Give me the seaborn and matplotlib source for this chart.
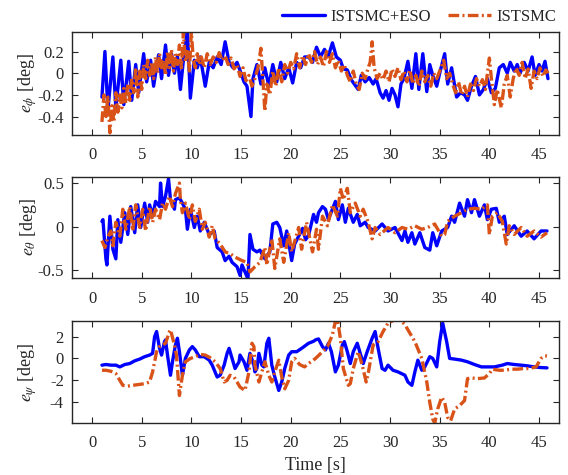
import matplotlib
matplotlib.use("Agg")
import matplotlib.pyplot as plt
import seaborn as sns
import pandas as pd

# ---------------- roll error e_phi ----------------
t_phi_eso = [1.0, 1.3, 1.6, 2.1, 2.4, 2.9, 3.2, 3.7, 4.0, 4.4, 4.7, 5.2, 5.5, 5.9, 6.2, 6.7, 7.0, 7.4, 7.7, 8.0,
             8.3, 8.6, 8.9, 9.2, 9.6, 9.9, 10.3, 10.6, 10.9, 11.4, 11.8, 12.2, 12.6, 13.0, 13.4, 13.8, 14.2, 14.6,
             15.0, 15.3, 15.6, 16.0, 16.2, 16.6, 17.0, 17.4, 17.8, 18.2, 18.6, 19.0, 19.4, 19.8, 20.2, 20.6, 21.0,
             21.4, 21.8, 22.2, 22.6, 23.0, 23.4, 23.8, 24.2, 24.6, 25.0, 25.3, 25.7, 26.1, 26.4, 26.8, 27.1, 27.5,
             27.9, 28.3, 28.6, 29.0, 29.3, 29.6, 29.9, 30.2, 30.5, 30.8, 31.1, 31.4, 31.8, 32.2, 32.6, 32.9, 33.3,
             33.7, 34.0, 34.3, 34.7, 35.0, 35.5, 35.8, 36.2, 36.7, 37.1, 37.5, 37.8, 38.2, 38.6, 39.0, 39.4, 39.8,
             40.2, 40.6, 41.0, 41.4, 41.8, 42.1, 42.5, 42.8, 43.1, 43.5, 43.9, 44.3, 44.6, 45.0, 45.3, 45.6, 45.9]
phi_eso = [-0.22, 0.20, -0.34, 0.15, -0.32, 0.12, -0.29, 0.11, -0.25, 0.08, -0.18, 0.18, -0.08, 0.12, -0.12, 0.17,
           -0.05, 0.26, -0.02, 0.18, 0.00, 0.16, -0.15, 0.12, 0.40, -0.23, 0.12, 0.05, 0.15, -0.12, 0.10, 0.05,
           0.15, 0.08, 0.29, 0.10, 0.05, 0.10, 0.00, -0.08, -0.12, -0.40, -0.05, 0.08, -0.10, 0.05, -0.12, 0.08,
           -0.08, 0.10, -0.05, 0.05, -0.09, 0.10, 0.05, 0.15, 0.15, 0.10, 0.24, 0.15, 0.22, 0.16, 0.28, 0.15,
           0.12, 0.04, 0.03, -0.06, -0.10, -0.15, -0.02, -0.08, -0.04, -0.10, -0.05, -0.18, -0.23, -0.16, -0.25,
           -0.14, -0.20, -0.31, -0.10, -0.05, 0.11, -0.14, 0.18, -0.15, 0.18, -0.17, 0.08, -0.02, -0.12, 0.00,
           0.18, -0.10, 0.05, -0.22, -0.18, -0.20, -0.25, -0.12, -0.03, -0.20, -0.15, -0.05, -0.18, -0.14, 0.05,
           0.08, 0.00, 0.10, 0.02, 0.08, 0.00, 0.10, 0.02, 0.15, -0.02, 0.08, 0.02, 0.11, -0.05]

t_phi_smc = [1.0, 1.2, 1.4, 1.6, 1.8, 2.0, 2.2, 2.4, 2.6, 2.8, 3.0, 3.2, 3.4, 3.6, 3.8, 4.0, 4.2, 4.4, 4.6, 4.8,
             5.0, 5.2, 5.4, 5.6, 5.8, 6.0, 6.2, 6.4, 6.6, 6.8, 7.0, 7.2, 7.4, 7.6, 7.8, 8.0, 8.2, 8.4, 8.6, 8.8,
             9.0, 9.2, 9.4, 9.6, 9.8, 10.0, 10.2, 10.4, 10.6, 10.8, 11.0, 11.3, 11.6, 11.9, 12.2, 12.5, 12.8, 13.1,
             13.4, 13.7, 14.0, 14.3, 14.6, 14.9, 15.2, 15.5, 15.8, 16.1, 16.4, 16.7, 17.0, 17.2, 17.4, 17.6, 17.9,
             18.2, 18.5, 18.8, 19.1, 19.4, 19.7, 20.0, 20.3, 20.6, 20.9, 21.2, 21.5, 21.8, 22.1, 22.4, 22.7, 23.0,
             23.3, 23.6, 23.9, 24.2, 24.5, 24.8, 25.1, 25.4, 25.7, 26.0, 26.3, 26.6, 26.9, 27.2, 27.5, 27.8, 28.0,
             28.2, 28.4, 28.7, 29.0, 29.3, 29.6, 29.9, 30.2, 30.5, 30.8, 31.1, 31.4, 31.7, 32.0, 32.3, 32.6, 32.9,
             33.2, 33.5, 33.8, 34.1, 34.4, 34.7, 35.0, 35.4, 35.7, 36.0, 36.3, 36.6, 36.9, 37.2, 37.5, 37.8, 38.1,
             38.4, 38.7, 39.0, 39.3, 39.6, 40.0, 40.2, 40.5, 40.8, 41.2, 41.5, 41.8, 42.1, 42.4, 42.7, 43.0, 43.3,
             43.6, 43.9, 44.2, 44.5, 44.8, 45.1, 45.4, 45.7, 45.9]
phi_smc = [-0.45, -0.20, -0.40, -0.22, -0.55, -0.30, -0.45, -0.18, -0.36, -0.20, -0.32, -0.14, -0.28, -0.10,
           -0.25, -0.05, -0.18, 0.05, -0.22, 0.02, -0.15, 0.08, -0.05, 0.12, -0.02, 0.10, -0.05, 0.15, 0.00, 0.18,
           0.05, 0.12, -0.02, 0.20, 0.05, 0.22, 0.02, 0.18, 0.08, 0.26, 0.05, 0.38, 0.10, 0.20, 0.02, 0.38, 0.12,
           0.05, 0.18, 0.08, 0.15, 0.05, 0.18, 0.08, 0.15, 0.10, 0.19, 0.12, 0.16, 0.08, 0.14, 0.04, 0.08, -0.03,
           0.05, -0.07, -0.02, -0.12, -0.05, 0.05, 0.23, -0.05, -0.35, -0.10, -0.20, 0.02, -0.12, 0.05, -0.08,
           0.08, 0.00, 0.10, 0.04, 0.18, 0.05, 0.16, 0.08, 0.18, 0.10, 0.20, 0.08, 0.15, 0.06, 0.20, 0.10, 0.18,
           0.05, 0.12, 0.02, 0.08, -0.02, -0.08, 0.02, -0.10, -0.15, 0.00, -0.05, 0.05, 0.10, 0.29, 0.05, -0.05,
           0.00, -0.06, 0.02, -0.08, 0.04, -0.03, 0.05, -0.06, 0.02, -0.08, 0.03, -0.10, -0.02, -0.12, 0.02,
           -0.08, -0.02, -0.12, 0.00, -0.05, 0.02, 0.12, -0.05, 0.00, -0.10, -0.18, -0.08, -0.20, -0.12, -0.22,
           -0.10, -0.16, -0.05, -0.12, -0.06, -0.15, 0.14, -0.05, -0.29, -0.15, -0.32, -0.10, -0.02, -0.22, -0.05,
           0.05, -0.02, 0.10, -0.05, 0.04, -0.14, 0.02, -0.05, 0.05, -0.03, 0.03, 0.00]

# ---------------- pitch error e_theta ----------------
t_theta_eso = [1.0, 1.1, 1.4, 1.5, 1.8, 2.1, 2.4, 2.6, 2.9, 3.3, 3.6, 3.9, 4.3, 4.6, 4.9, 5.3, 5.6, 5.8, 6.1, 6.4,
               6.8, 6.9, 7.1, 7.4, 7.7, 7.9, 8.3, 8.4, 8.8, 9.1, 9.4, 9.6, 9.9, 10.3, 10.6, 10.9, 11.3, 11.8, 12.3,
               12.6, 13.1, 13.4, 13.8, 14.1, 14.6, 14.9, 15.1, 15.4, 15.7, 15.9, 16.2, 16.6, 16.9, 17.4, 17.9,
               18.2, 18.6, 18.9, 19.3, 19.6, 20.1, 20.4, 20.8, 21.2, 21.5, 21.8, 22.3, 22.6, 22.8, 23.2, 23.5,
               23.8, 24.2, 24.5, 24.8, 25.2, 25.5, 25.8, 26.3, 26.7, 27.0, 27.5, 27.8, 28.5, 29.2, 29.8, 30.5,
               31.2, 31.5, 31.8, 32.2, 32.5, 33.0, 33.5, 34.0, 34.3, 34.7, 35.2, 35.8, 36.2, 36.5, 37.0, 37.5,
               37.8, 38.2, 38.5, 39.0, 39.5, 39.8, 40.2, 40.7, 41.0, 41.5, 41.8, 42.5, 43.2, 43.8, 44.5, 45.2, 45.8]
theta_eso = [0.06, 0.08, -0.37, -0.44, 0.12, -0.26, -0.37, 0.08, -0.18, 0.16, -0.09, 0.23, -0.07, 0.25, -0.01,
             0.27, 0.05, 0.25, 0.12, 0.29, 0.23, 0.50, 0.23, 0.35, 0.55, 0.31, 0.20, 0.31, 0.33, 0.27, 0.20, -0.03,
             0.20, -0.01, 0.12, -0.05, 0.05, -0.09, -0.05, -0.24, -0.29, -0.39, -0.34, -0.41, -0.46, -0.56, -0.44,
             -0.52, -0.60, -0.09, -0.26, -0.29, -0.27, -0.37, -0.29, 0.03, 0.05, -0.01, -0.22, -0.05, -0.39,
             -0.20, -0.11, -0.02, -0.15, -0.10, 0.14, 0.05, 0.16, 0.23, 0.20, 0.08, 0.20, 0.29, 0.08, 0.25, 0.05,
             0.21, 0.05, 0.14, 0.01, 0.05, -0.01, -0.05, 0.03, -0.05, -0.01, -0.16, -0.05, -0.18, -0.07, -0.20,
             -0.07, -0.24, -0.27, -0.07, -0.22, -0.05, -0.01, 0.12, 0.05, 0.27, 0.12, 0.31, 0.16, 0.31, 0.12, 0.25,
             0.08, 0.20, 0.21, 0.05, 0.12, -0.09, 0.01, -0.11, -0.05, -0.14, -0.05, -0.05]

t_theta_smc = [1.0, 1.3, 1.6, 1.9, 2.1, 2.4, 2.8, 3.1, 3.4, 3.8, 4.1, 4.4, 4.8, 5.1, 5.4, 5.8, 6.1, 6.4, 6.8, 7.1,
               7.4, 7.8, 8.1, 8.4, 8.8, 8.9, 9.1, 9.4, 9.8, 10.1, 10.4, 10.8, 11.1, 11.4, 11.8, 12.1, 12.4, 12.9,
               13.4, 13.9, 14.4, 15.1, 15.6, 15.9, 16.4, 16.9, 17.4, 17.6, 18.1, 18.4, 18.9, 19.3, 19.8, 20.1,
               20.8, 21.1, 21.6, 22.1, 22.2, 22.6, 22.8, 23.2, 23.7, 24.2, 24.7, 25.0, 25.3, 25.7, 26.0, 26.5,
               27.0, 27.3, 27.8, 28.2, 28.5, 29.0, 29.8, 30.5, 31.2, 31.8, 32.5, 33.2, 33.8, 34.5, 35.2, 35.5,
               35.8, 36.5, 37.2, 37.8, 38.5, 39.2, 39.8, 40.0, 40.3, 40.8, 41.3, 41.7, 42.0, 42.5, 43.2, 43.8,
               44.5, 45.2, 45.8]
theta_smc = [-0.16, -0.24, -0.12, -0.05, -0.22, 0.05, -0.11, 0.20, -0.03, 0.23, -0.05, 0.25, -0.01, 0.20, -0.05,
             0.23, 0.05, 0.20, 0.08, 0.27, 0.20, 0.35, 0.23, 0.38, 0.50, 0.31, 0.16, 0.27, 0.08, 0.25, 0.06, 0.20,
             -0.03, 0.05, -0.12, 0.01, -0.14, -0.20, -0.29, -0.31, -0.35, -0.39, -0.41, -0.52, -0.46, -0.41,
             -0.24, -0.44, -0.14, -0.48, -0.14, -0.41, -0.07, -0.29, -0.01, -0.26, 0.05, -0.24, -0.29, -0.03,
             -0.26, 0.12, 0.01, 0.25, 0.12, 0.44, 0.31, 0.44, 0.16, 0.27, 0.12, 0.20, 0.05, -0.14, -0.01, -0.09,
             -0.01, -0.07, -0.01, -0.03, 0.01, -0.03, -0.01, 0.03, -0.11, -0.09, 0.06, 0.12, 0.16, 0.20, 0.21,
             0.20, 0.25, -0.09, 0.12, 0.16, 0.06, -0.20, 0.01, -0.09, -0.01, -0.11, -0.05, -0.12, -0.07]

# ---------------- yaw error e_psi ----------------
t_psi_eso = [1.0, 1.4, 1.9, 2.4, 2.8, 3.3, 3.8, 4.3, 4.8, 5.3, 5.8, 6.1, 6.3, 6.5, 6.8, 7.0, 7.3, 7.4, 7.6, 7.9,
             8.1, 8.4, 8.6, 8.8, 9.1, 9.4, 9.8, 10.1, 10.4, 10.8, 11.3, 11.8, 12.1, 12.6, 12.9, 13.3, 13.6, 13.8,
             14.1, 14.4, 14.8, 14.9, 15.3, 15.6, 15.9, 16.3, 16.4, 16.6, 16.8, 17.1, 17.3, 17.6, 17.8, 18.1,
             18.4, 18.8, 19.1, 19.4, 19.8, 20.1, 20.6, 21.1, 21.8, 22.3, 22.5, 22.8, 23.2, 23.5, 23.8, 24.1,
             24.5, 24.8, 25.2, 25.4, 25.7, 26.0, 26.3, 26.7, 27.0, 27.3, 27.7, 28.2, 28.5, 28.8, 29.2, 29.5,
             29.8, 30.3, 30.8, 31.5, 31.8, 32.2, 32.5, 32.8, 33.2, 33.5, 34.0, 34.3, 34.7, 35.0, 35.3, 35.7,
             36.0, 36.5, 37.2, 37.8, 38.5, 39.2, 39.8, 40.5, 41.3, 41.8, 42.5, 43.2, 43.8, 44.5, 45.2, 45.8]
psi_eso = [-0.62, -0.56, -0.62, -0.62, -0.78, -0.56, -0.47, -0.22, -0.06, 0.16, 0.31, 0.47, 2.00, 2.48, 0.93,
           0.31, 1.55, 1.71, 0.31, -1.55, -0.31, 1.24, 1.86, 0.62, -1.55, 0.00, 0.78, 1.09, 0.78, 0.16, 0.16,
           -0.16, -0.62, -1.71, -1.55, -0.62, 0.47, 0.93, 0.00, -0.93, -0.31, 0.31, -0.31, -1.09, 0.47, -0.62,
           -1.24, -0.93, 0.47, -0.62, -0.78, 1.40, 1.86, -0.62, -1.71, -2.95, -2.17, -0.93, 0.31, 0.62, 0.62,
           0.93, 1.40, 1.58, 1.71, 1.80, 1.09, 0.78, 1.40, 0.62, -1.24, -0.62, 1.24, 1.55, 0.62, -0.47, 0.62,
           1.40, 0.47, -0.47, 0.62, 1.86, 2.48, 0.93, -0.93, -1.09, -0.62, -1.09, -1.24, -1.55, -2.17, -2.48,
           -1.24, -0.16, -1.09, -0.78, 0.16, 0.00, -0.78, 1.55, 3.26, 1.55, 0.00, -0.06, -0.16, -0.31, -0.56,
           -0.78, -0.78, -0.78, -0.62, -0.47, -0.56, -0.62, -0.68, -0.78, -0.84, -0.87]

t_psi_smc = [1.0, 1.4, 1.9, 2.4, 2.8, 3.1, 3.6, 4.1, 4.8, 5.3, 5.8, 6.1, 6.5, 6.8, 7.1, 7.4, 7.8, 7.9, 8.3, 8.5,
             8.8, 9.1, 9.4, 9.9, 10.4, 10.9, 11.4, 11.9, 12.4, 12.9, 13.3, 13.6, 13.9, 14.3, 14.6, 14.9, 15.4,
             15.8, 16.1, 16.3, 16.4, 16.8, 17.1, 17.4, 17.8, 18.1, 18.4, 18.8, 19.1, 19.4, 19.8, 20.1, 20.4,
             20.9, 21.4, 21.8, 22.5, 23.2, 23.7, 24.2, 24.5, 24.7, 25.0, 25.3, 25.8, 26.0, 26.3, 26.8, 27.2,
             27.6, 27.8, 28.3, 28.8, 29.3, 29.8, 30.5, 31.0, 31.5, 32.0, 32.5, 33.2, 33.7, 34.0, 34.3, 34.5,
             34.8, 35.2, 35.5, 35.8, 36.1, 36.5, 37.0, 37.5, 37.8, 38.2, 38.8, 39.5, 40.0, 40.3, 41.0, 41.5,
             42.2, 42.8, 43.5, 44.0, 44.7, 45.2, 45.6, 45.8]
psi_smc = [-1.09, -1.09, -1.18, -1.40, -2.02, -2.48, -2.55, -2.48, -2.39, -2.33, -2.17, -1.24, 0.62, 1.09, 1.24,
           1.40, 2.48, 2.64, 1.24, 0.31, -3.42, -1.55, -0.31, 0.00, 0.16, 0.37, 0.31, 0.06, -0.31, -0.93, -2.17,
           -2.02, -1.55, -1.71, -2.17, -2.64, -2.95, -1.24, 1.40, 1.09, -0.62, -2.17, -1.24, -0.31, -1.55, -2.17,
           -1.24, -0.16, -1.71, -2.80, -2.02, -0.31, 0.00, -0.56, -0.78, -0.47, 0.00, 0.62, 1.09, 2.17, 3.42,
           3.66, 1.86, -0.93, -2.48, -2.33, -0.93, 0.62, -0.62, -2.17, -1.40, 1.24, 1.55, 2.48, 3.26, 3.57,
           3.57, 3.11, 2.33, 1.55, 0.00, -2.17, -4.04, -5.59, -5.96, -4.66, -3.57, -4.04, -5.43, -5.75, -4.66,
           -4.35, -3.88, -1.86, -1.80, -1.86, -1.80, -1.40, -0.99, -1.09, -1.09, -0.99, -0.99, -0.93, -0.93,
           -0.78, 0.00, 0.25, 0.22]

x_ticks = [0, 5, 10, 15, 20, 25, 30, 35, 40, 45]
y_ticks_phi = [-0.4, -0.2, 0, 0.2]
y_ticks_theta = [-0.5, 0, 0.5]
y_ticks_psi = [-4, -2, 0, 2]

labels = ["ISTSMC+ESO", "ISTSMC"]
colors = {"ISTSMC+ESO": "#0000FF", "ISTSMC": "#D95319"}

sns.set_theme(style="ticks")
plt.rcParams["font.family"] = ["Liberation Serif", "DejaVu Serif"]
plt.rcParams["mathtext.fontset"] = "stix"
plt.rcParams["axes.linewidth"] = 1.0
plt.rcParams["xtick.direction"] = "in"
plt.rcParams["ytick.direction"] = "in"

fig = plt.figure(figsize=(5.68, 4.75), dpi=100)
left, width = 0.127, 0.857
boxes = [(left, 0.7158, width, 0.2168),
         (left, 0.4147, width, 0.2127),
         (left, 0.1095, width, 0.2147)]

panels = [
    (t_phi_eso, phi_eso, t_phi_smc, phi_smc, (-0.57, 0.38), y_ticks_phi,
     ["-0.4", "-0.2", "0", "0.2"], r"$e_{\phi}$ [deg]"),
    (t_theta_eso, theta_eso, t_theta_smc, theta_smc, (-0.59, 0.57), y_ticks_theta,
     ["-0.5", "0", "0.5"], r"$e_{\theta}$ [deg]"),
    (t_psi_eso, psi_eso, t_psi_smc, psi_smc, (-5.95, 3.45), y_ticks_psi,
     ["-4", "-2", "0", "2"], r"$e_{\psi}$ [deg]"),
]

for box, (te, ye, ts, ys, ylim, yt, ytl, ylab) in zip(boxes, panels):
    ax = fig.add_axes(box)
    df = pd.concat([
        pd.DataFrame({"t": te, "e": ye, "ctrl": labels[0]}),
        pd.DataFrame({"t": ts, "e": ys, "ctrl": labels[1]}),
    ], ignore_index=True)
    sns.lineplot(data=df[df.ctrl == labels[0]], x="t", y="e", ax=ax, color=colors[labels[0]],
                 lw=2.4, sort=False, estimator=None, label=labels[0], legend=False)
    sns.lineplot(data=df[df.ctrl == labels[1]], x="t", y="e", ax=ax, color=colors[labels[1]],
                 lw=2.4, sort=False, estimator=None, label=labels[1], legend=False,
                 linestyle=(0, (3.2, 1.0, 0.6, 1.0)))
    ax.set_xlim(-2, 47)
    ax.set_ylim(*ylim)
    ax.set_xticks(x_ticks)
    ax.set_xticklabels([str(v) for v in x_ticks], fontsize=12)
    ax.set_yticks(yt)
    ax.set_yticklabels(ytl, fontsize=12)
    ax.set_xlabel("")
    ax.set_ylabel(ylab, fontsize=13)
    ax.tick_params(axis="both", which="both", direction="in", top=True, right=True,
                   length=4, width=0.8, colors="#262626", labelcolor="#262626", pad=6)
    ax.tick_params(axis="x", pad=9)
    for s in ax.spines.values():
        s.set_color("#262626")
        s.set_linewidth(1.0)
    ax.yaxis.set_label_coords(-0.068, 0.5)

axes = fig.axes
axes[2].set_xlabel("Time [s]", fontsize=13, labelpad=4)

handles, hl = axes[0].get_legend_handles_labels()
fig.legend(handles, hl, loc="upper right", bbox_to_anchor=(1.005, 1.012), ncol=2, frameon=False,
           fontsize=12, handlelength=2.6, handletextpad=0.3, columnspacing=1.0)

fig.savefig("out.png", dpi=100)
